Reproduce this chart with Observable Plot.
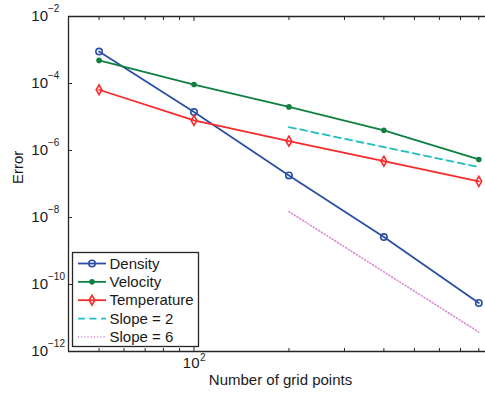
<!DOCTYPE html>
<html>
<head>
<meta charset="utf-8">
<script src="https://cdn.jsdelivr.net/npm/d3@7"></script>
<script src="https://cdn.jsdelivr.net/npm/@observablehq/plot@0.6"></script>
<style>
  html, body { margin: 0; padding: 0; background: white; }
  svg { display: block; }
</style>
</head>
<body>
<div id="chart"></div>
<script>
// ---- data ----
const gridPoints = [50, 100, 200, 400, 800];
const density = [9.0e-4, 1.4e-5, 1.8e-7, 2.6e-9, 2.8e-11];
const velocity = [4.9e-4, 9.3e-5, 2.0e-5, 4.0e-6, 5.4e-7];
const temperature = [6.5e-5, 7.9e-6, 1.9e-6, 4.8e-7, 1.2e-7];
const slope2X = [200, 800];
const slope2 = [5.0e-6, 3.2e-7];
const slope6X = [200, 800];
const slope6 = [1.5e-8, 3.8e-12];

const seriesNames = ["Density", "Velocity", "Temperature", "Slope = 2", "Slope = 6"];
const seriesColors = ["#2b4fa6", "#0f8040", "#f72a2a", "#1fbfbf", "#dc8ad4"];

const xDomain = [40, 840];
const yDomain = [1e-12, 1e-2];
const xMajorTicks = [100];
const xMinorTicks = [50, 60, 70, 80, 90, 200, 300, 400, 500, 600, 700, 800];
const xTickLabels = [{value: 100, base: "10", exp: "2"}];
const yTicks = [1e-2, 1e-4, 1e-6, 1e-8, 1e-10, 1e-12];
const yTickExps = ["\u22122", "\u22124", "\u22126", "\u22128", "\u221210", "\u221212"];
const xLabel = "Number of grid points";
const yLabel = "Error";

// ---- tables ----
const mk = (xs, ys, name) => xs.map((x, i) => ({x, y: ys[i], series: name}));
const dDensity = mk(gridPoints, density, seriesNames[0]);
const dVelocity = mk(gridPoints, velocity, seriesNames[1]);
const dTemp = mk(gridPoints, temperature, seriesNames[2]);
const dSlope2 = mk(slope2X, slope2, seriesNames[3]);
const dSlope6 = mk(slope6X, slope6, seriesNames[4]);
const yTickData = yTicks.map((v, i) => ({value: v, exp: yTickExps[i]}));

const axisColor = "#262626";
const textColor = "#1a1a1a";
const font = "'Liberation Sans', Arial, Helvetica, sans-serif";

const chart = Plot.plot({
  width: 485,
  height: 394,
  marginLeft: 68,
  marginRight: 0,
  marginTop: 16,
  marginBottom: 43,
  x: {type: "log", domain: xDomain},
  y: {type: "log", domain: yDomain},
  style: {fontFamily: font, background: "white", color: axisColor},
  marks: [
    // frame (left, top, bottom)
    Plot.ruleY([yDomain[0], yDomain[1]], {stroke: axisColor, strokeWidth: 1.3}),
    Plot.ruleX([xDomain[0]], {stroke: axisColor, strokeWidth: 1.3}),
    // inward ticks
    Plot.axisX(xMinorTicks, {anchor: "bottom", tickSize: 3, dy: -3, tickFormat: () => "", label: null, stroke: axisColor}),
    Plot.axisX(xMajorTicks, {anchor: "bottom", tickSize: 4, dy: -4, tickFormat: () => "", label: null, stroke: axisColor}),
    Plot.axisX(xMinorTicks, {anchor: "top", tickSize: 3, dy: 3, tickFormat: () => "", label: null, stroke: axisColor}),
    Plot.axisX(xMajorTicks, {anchor: "top", tickSize: 4, dy: 4, tickFormat: () => "", label: null, stroke: axisColor}),
    Plot.axisY(yTicks, {anchor: "left", tickSize: 4, dx: 4, tickFormat: () => "", label: null, stroke: axisColor}),
    // tick labels
    Plot.text(yTickData, {y: "value", frameAnchor: "left", text: () => "10", textAnchor: "end", dx: -20.5, fontSize: 15, fill: textColor}),
    Plot.text(yTickData, {y: "value", frameAnchor: "left", text: "exp", textAnchor: "start", dx: -20.5, dy: -8, fontSize: 10, fill: textColor}),
    Plot.text(xTickLabels, {x: "value", frameAnchor: "bottom", text: "base", textAnchor: "end", dx: 5.5, dy: 16, fontSize: 15, fill: textColor}),
    Plot.text(xTickLabels, {x: "value", frameAnchor: "bottom", text: "exp", textAnchor: "start", dx: 6, dy: 9, fontSize: 10, fill: textColor}),
    // axis labels
    Plot.text([xLabel], {frameAnchor: "bottom", text: d => d, dx: 3.5, dy: 33, fontSize: 15, fill: textColor}),
    Plot.text([yLabel], {frameAnchor: "left", text: d => d, dx: -50, rotate: -90, fontSize: 15, fill: textColor}),
    // reference slopes
    Plot.line(dSlope2, {x: "x", y: "y", stroke: seriesColors[3], strokeWidth: 1.8, strokeDasharray: "7,4.5"}),
    Plot.line(dSlope6, {x: "x", y: "y", stroke: seriesColors[4], strokeWidth: 1.6, strokeDasharray: "1,2.2"}),
    // data series
    Plot.line(dDensity, {x: "x", y: "y", stroke: seriesColors[0], strokeWidth: 1.8}),
    Plot.dot(dDensity, {x: "x", y: "y", stroke: seriesColors[0], fill: "none", r: 3.2, strokeWidth: 1.6}),
    Plot.line(dVelocity, {x: "x", y: "y", stroke: seriesColors[1], strokeWidth: 1.8}),
    Plot.dot(dVelocity, {x: "x", y: "y", fill: seriesColors[1], r: 2.8}),
    Plot.line(dTemp, {x: "x", y: "y", stroke: seriesColors[2], strokeWidth: 1.8}),
    Plot.dot(dTemp, {x: "x", y: "y", stroke: seriesColors[2], fill: "none", symbol: "diamond", r: 3, strokeWidth: 1.6})
  ]
});

document.getElementById("chart").appendChild(chart);

// ---- legend (inside axes, lower left) ----
const svg = d3.select(chart);
const lg = svg.append("g")
  .attr("font-family", font)
  .attr("font-size", 15)
  .attr("text-anchor", "start");
const lx = 72.5, ly = 252.5, lw = 126, lh = 94;
lg.append("rect").attr("x", lx).attr("y", ly).attr("width", lw).attr("height", lh)
  .attr("fill", "white").attr("stroke", axisColor).attr("stroke-width", 1.3);
const legendStyles = [
  {dash: null, sym: d3.symbolCircle, r: 3.2, fill: "none", stroke: true},
  {dash: null, sym: d3.symbolCircle, r: 2.8, fill: true, stroke: false},
  {dash: null, sym: d3.symbolDiamond, r: 3, fill: "none", stroke: true},
  {dash: "7,4.5", sym: null},
  {dash: "1,2.2", sym: null}
];
seriesNames.forEach((name, i) => {
  const cy = 263.5 + i * 18.35;
  const st = legendStyles[i];
  const l = lg.append("path")
    .attr("d", `M78,${cy}H106`)
    .attr("fill", "none")
    .attr("stroke", seriesColors[i])
    .attr("stroke-width", i === 4 ? 1.6 : 1.8);
  if (st.dash) l.attr("stroke-dasharray", st.dash);
  if (st.sym) {
    lg.append("path")
      .attr("d", d3.symbol(st.sym, Math.PI * st.r * st.r)())
      .attr("transform", `translate(92,${cy})`)
      .attr("fill", st.fill === true ? seriesColors[i] : "none")
      .attr("stroke", st.stroke ? seriesColors[i] : "none")
      .attr("stroke-width", 1.6);
  }
  lg.append("text")
    .attr("x", 109.5).attr("y", cy).attr("dy", "0.35em")
    .attr("text-anchor", "start")
    .attr("fill", textColor).text(name);
});
</script>
</body>
</html>
